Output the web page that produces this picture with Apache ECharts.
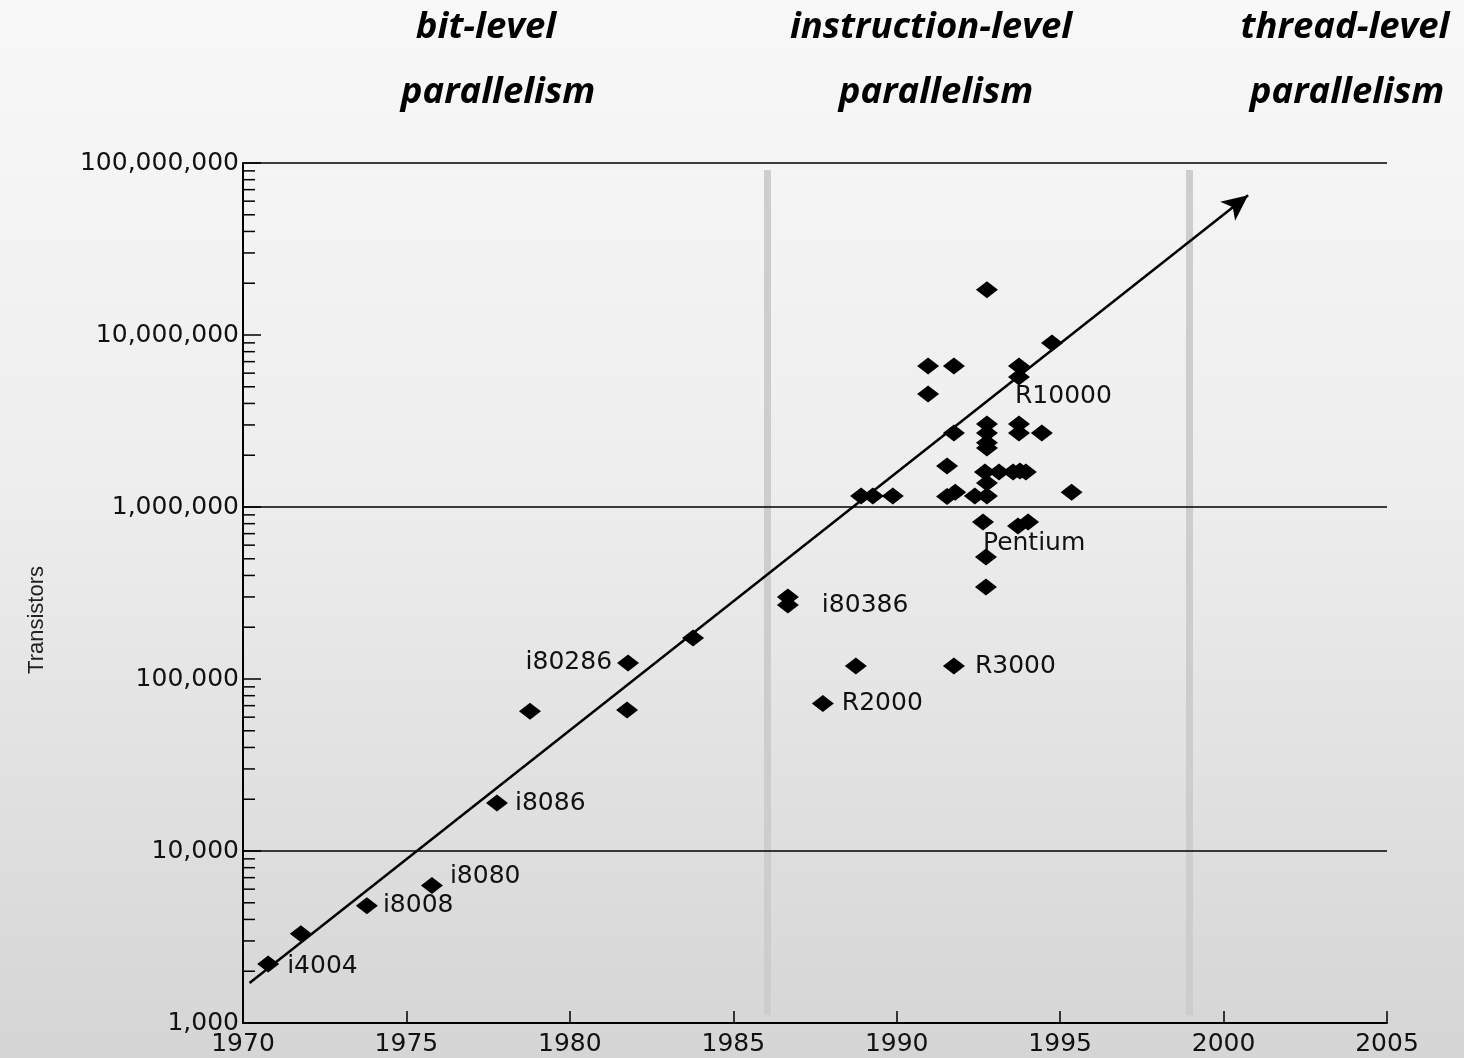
<!DOCTYPE html>
<html><head><meta charset="utf-8">
<script src="https://cdn.jsdelivr.net/npm/echarts@6/dist/echarts.min.js"></script>
<style>html,body{margin:0;padding:0;background:#eee;}#c{width:1464px;height:1058px;}</style>
</head><body><div id="c"></div>
<script>
// ---- data ----
const chipYears = [1970.77,1971.77,1973.79,1975.78,1977.77,1978.78,1981.78,1981.75,1983.77,1986.67,1986.67,1987.74,1988.75,1991.75,1992.73,1992.73,1992.64,1993.71,1994.02,1988.91,1989.27,1989.88,1991.54,1991.79,1992.39,1992.76,1995.35,1992.76,1992.70,1993.13,1993.56,1993.77,1993.95,1991.54,1992.76,1992.76,1992.76,1992.76,1993.74,1993.74,1994.44,1991.75,1990.96,1990.96,1991.75,1993.74,1993.74,1994.75,1992.76];
const chipTransistors = [2200,3300,4800,6300,19000,65000,124000,66000,173000,300000,269000,72000,119000,119000,343000,512000,819000,776000,819000,1160000,1160000,1160000,1150000,1220000,1160000,1160000,1220000,1380000,1600000,1600000,1600000,1620000,1600000,1730000,3040000,2690000,2360000,2200000,3040000,2690000,2690000,2690000,4540000,6600000,6600000,6600000,5700000,8970000,18300000];
const chipNames = ['i4004','','i8008','i8080','i8086','','i80286','','','','i80386','R2000','','R3000','','Pentium','','','','','','','','','','','','','','','','','','','','','','','','','','','','','','','R10000','',''];
const yearTicks = [1970,1975,1980,1985,1990,1995,2000,2005];
const minorTickValues = [];
[1e3,1e4,1e5,1e6,1e7].forEach(d => { for (let k = 2; k <= 9; k++) minorTickValues.push(d * k); });
const gridValues = [10000, 1000000, 100000000];
const eraBoundaries = [1986.05, 1998.96];
const eraSpan = [91000000, 1110];
const trendStart = [1970.2, 1710];
const trendEnd = [2000.75, 65000000];
const eraTitles = [['bit-level','parallelism'],['instruction-level','parallelism'],['thread-level','parallelism']];
const yAxisTitle = 'Transistors';

// label placements (style)
const labelStyle = {
  'i4004':  {position:'right', offset:[3,2]},
  'i8008':  {position:'right', offset:[0,0]},
  'i8080':  {position:'right', offset:[2,-9]},
  'i8086':  {position:'right', offset:[2,0]},
  'i80286': {position:'left',  offset:[0,0]},
  'i80386': {position:'right', offset:[18,0]},
  'R2000':  {position:'right', offset:[3,0]},
  'R3000':  {position:'right', offset:[5,0]},
  'Pentium':{position:'right', offset:[-19,-14]},
  'R10000': {position:'right', offset:[-20,20]}
};

const FONT = 'DejaVu Sans';
const LABEL_SIZE = 25;
const points = chipYears.map((y, i) => {
  const item = {value: [y, chipTransistors[i]]};
  const n = chipNames[i];
  if (n) {
    const s = labelStyle[n];
    item.label = {show: true, formatter: n, position: s.position, offset: s.offset, distance: 5,
      fontFamily: FONT, fontSize: LABEL_SIZE, color: '#111'};
  }
  return item;
});

const chart = echarts.init(document.getElementById('c'));
const headerPos = [[486, 498], [931, 936], [1345, 1347]];
const graphics = [];
eraTitles.forEach((t, i) => {
  graphics.push({type:'text', x: headerPos[i][0], y: 28, style:{text:t[0], fontFamily:'Open Sans', fontWeight:'bold', fontStyle:'italic', fontSize:36.5, fill:'#000', align:'center', verticalAlign:'middle'}});
  graphics.push({type:'text', x: headerPos[i][1], y: 93, style:{text:t[1], fontFamily:'Open Sans', fontWeight:'bold', fontStyle:'italic', fontSize:36.5, fill:'#000', align:'center', verticalAlign:'middle'}});
});
graphics.push({type:'text', x: 37, y: 620, rotation: Math.PI / 2, style:{text: yAxisTitle, fontFamily:'Liberation Sans', fontSize:22, fill:'#222', align:'center', verticalAlign:'middle'}});

chart.setOption({
  animation: false,
  backgroundColor: {type:'linear', x:0, y:0, x2:0, y2:1, colorStops:[{offset:0,color:'#f8f8f8'},{offset:0.45,color:'#eeeeee'},{offset:1,color:'#d5d5d5'}]},
  graphic: graphics,
  grid: {left: 243, right: 77, top: 163, bottom: 35, containLabel: false},
  xAxis: {
    type: 'value', min: 1970, max: 2005, interval: 5,
    axisLine: {show: true, lineStyle: {color: '#000', width: 2}},
    axisTick: {show: true, inside: true, length: 12, lineStyle: {color: '#000', width: 1.5}},
    axisLabel: {fontFamily: FONT, fontSize: LABEL_SIZE, color: '#111', margin: 9, showMinLabel: true, showMaxLabel: true,
      formatter: v => String(v)},
    splitLine: {show: false}
  },
  yAxis: {
    type: 'log', logBase: 10, min: 1000, max: 100000000,
    axisLine: {show: true, lineStyle: {color: '#000', width: 2}},
    axisTick: {show: true, inside: true, length: 18, lineStyle: {color: '#000', width: 1.5}},
    axisLabel: {fontFamily: FONT, fontSize: LABEL_SIZE, color: '#111', margin: 4,
      formatter: v => Math.round(v).toLocaleString('en-US')},
    splitLine: {show: false}
  },
  series: [
    {
      type: 'scatter', data: [], z: 1, silent: true,
      markLine: {
        silent: true, symbol: ['none','none'], label: {show: false},
        lineStyle: {color: '#cdcdcd', width: 7, type: 'solid', opacity: 1},
        data: eraBoundaries.map(x => [{coord: [x, eraSpan[0]]}, {coord: [x, eraSpan[1]]}])
      }
    },
    {
      type: 'scatter', data: [], z: 2, silent: true,
      markLine: {
        silent: true, symbol: ['none','none'], label: {show: false},
        lineStyle: {color: '#000', width: 1.5, type: 'solid', opacity: 1},
        data: gridValues.map(v => ({yAxis: v}))
      }
    },
    {
      type: 'scatter', data: [], z: 3, silent: true,
      markLine: {
        silent: true, symbol: ['none','arrow'], symbolSize: [18, 26], label: {show: false},
        lineStyle: {color: '#000', width: 2.5, type: 'solid', opacity: 1},
        data: [[{coord: trendStart}, {coord: trendEnd}]]
      }
    },
    {
      type: 'custom', z: 4, silent: true, clip: false,
      data: minorTickValues.map(v => [1970, v]),
      encode: {x: 0, y: 1},
      renderItem: (params, api) => {
        const p = api.coord([api.value(0), api.value(1)]);
        return {type: 'line', shape: {x1: p[0], y1: p[1], x2: p[0] + 12, y2: p[1]}, style: {stroke: '#000', lineWidth: 1.5}};
      }
    },
    {
      type: 'scatter', z: 5, symbol: 'diamond', symbolSize: [22, 17], silent: true,
      itemStyle: {color: '#000', opacity: 1},
      data: points
    }
  ]
});
</script>
</body></html>
